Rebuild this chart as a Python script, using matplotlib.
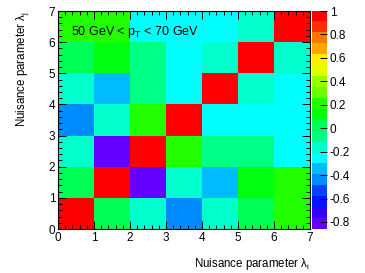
import colorsys
import numpy as np
import matplotlib
matplotlib.use("Agg")
import matplotlib.pyplot as plt
from matplotlib.colors import ListedColormap, BoundaryNorm
from matplotlib.ticker import MultipleLocator

plt.rcParams['font.family'] = ['Liberation Sans', 'DejaVu Sans']
plt.rcParams['mathtext.fontset'] = 'custom'
plt.rcParams['mathtext.rm'] = 'Liberation Sans'
plt.rcParams['mathtext.it'] = 'Liberation Sans'

# ---- data ----
n_params = 7
upper_pairs = [
    (0, 1, 0.02), (0, 2, -0.17), (0, 3, -0.45), (0, 4, -0.17), (0, 5, 0.02), (0, 6, 0.20),
    (1, 2, -0.86), (1, 3, -0.17), (1, 4, -0.36), (1, 5, 0.11), (1, 6, 0.20),
    (2, 3, 0.20), (2, 4, -0.08), (2, 5, -0.08), (2, 6, -0.26),
    (3, 4, -0.26), (3, 5, -0.26), (3, 6, -0.26),
    (4, 5, -0.17), (4, 6, -0.26),
    (5, 6, -0.17),
]
cbar_ticks = [-0.8, -0.6, -0.4, -0.2, 0, 0.2, 0.4, 0.6, 0.8, 1]
cbar_labels = ["-0.8", "-0.6", "-0.4", "-0.2", "0", "0.2", "0.4", "0.6", "0.8", "1"]
axis_ticks = [0, 1, 2, 3, 4, 5, 6, 7]
annotation = r"50 GeV < p$_\mathregular{T}$ < 70 GeV"
xlabel = r"Nuisance parameter $\lambda_\mathregular{i}$"
ylabel = r"Nuisance parameter $\lambda_\mathregular{j}$"

M = np.eye(n_params)
for i, j, v in upper_pairs:
    M[i, j] = v
    M[j, i] = v

# ROOT-like "pretty" palette: 50 HLS colours, 20 contours
ncol = 50
ndiv = 20
palette = []
for k in range(ncol):
    hue = 280 - (k + 1) * (280.0 / ncol)
    palette.append(colorsys.hls_to_rgb(hue / 360.0, 0.5, 1.0))
cols = [palette[int((k + 0.99) * ncol / ndiv)] for k in range(ndiv)]
cmap = ListedColormap(cols)
vmin, vmax = M.min(), M.max()
levels = np.linspace(vmin, vmax, ndiv + 1)
norm = BoundaryNorm(levels, ndiv)

W, H = 365, 273
fig = plt.figure(figsize=(W / 100, H / 100), dpi=100)
ax = fig.add_axes([58 / W, (H - 229) / H, 252 / W, 218 / H])
cax = fig.add_axes([312 / W, (H - 229) / H, 15 / W, 218 / H])

edges = np.arange(n_params + 1)
mesh = ax.pcolormesh(edges, edges, M.T, cmap=cmap, norm=norm)
ax.set_xlim(0, 7)
ax.set_ylim(0, 7)
ax.set_xticks(axis_ticks)
ax.set_yticks(axis_ticks)
ax.xaxis.set_minor_locator(MultipleLocator(0.2))
ax.yaxis.set_minor_locator(MultipleLocator(0.2))
ax.tick_params(which='both', direction='in', top=True, right=True, labelsize=8.5, width=0.7)
ax.tick_params(which='major', length=6, pad=2)
ax.tick_params(which='minor', length=3)
for s in ax.spines.values():
    s.set_linewidth(0.8)

ax.text(0.05, 0.905, annotation, transform=ax.transAxes, fontsize=9, ha='left', va='center')
ax.set_xlabel(xlabel, fontsize=8.3, ha='right', x=1.0, labelpad=9)
ax.set_ylabel(ylabel, fontsize=8.3, ha='right', y=1.0, labelpad=13)

# colour bar
cb_vals = np.linspace(vmin, vmax, 400)
cax.pcolormesh([0, 1], cb_vals, cb_vals[:-1, None], cmap=cmap, norm=norm)
cax.set_xlim(0, 1)
cax.set_ylim(vmin, vmax)
cax.set_xticks([])
cax.yaxis.tick_right()
cax.set_yticks(cbar_ticks)
cax.set_yticklabels(cbar_labels)
cax.tick_params(axis='y', direction='in', length=5, width=0.7, labelsize=8.5, pad=2)
for s in cax.spines.values():
    s.set_visible(False)

fig.savefig("out.png", dpi=100)
